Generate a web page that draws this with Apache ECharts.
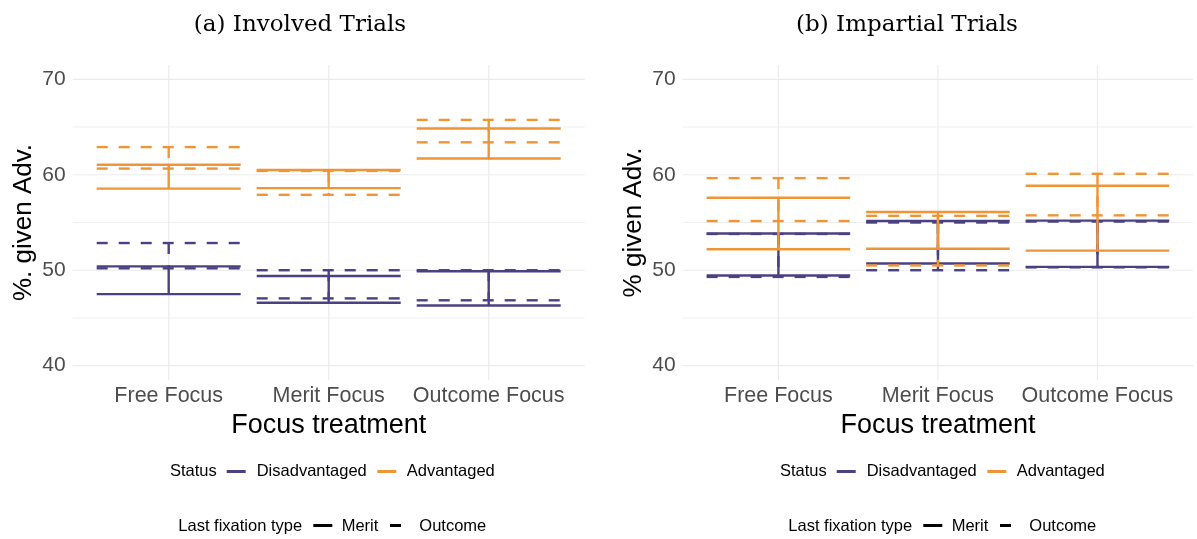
<!DOCTYPE html>
<html>
<head>
<meta charset="utf-8">
<script src="https://cdn.jsdelivr.net/npm/echarts@6/dist/echarts.min.js"></script>
<style>
html, body { margin: 0; padding: 0; background: #fff; }
#chart { width: 1197px; height: 539px; }
</style>
</head>
<body>
<div id="chart"></div>
<script>
var categories = ['Free Focus', 'Merit Focus', 'Outcome Focus']
var panelTitles = ['(a) Involved Trials', '(b) Impartial Trials']
var yTitles = ['%. given Adv.', '% given Adv.']
var xTitle = 'Focus treatment'
var yTickLabels = [40, 50, 60, 70]
var yMinorTicks = [45, 55, 65]
var statusNames = ['Disadvantaged', 'Advantaged']
var fixationNames = ['Merit', 'Outcome']
var statusTitle = 'Status'
var fixationTitle = 'Last fixation type'

// involved trials, lower / upper end per focus treatment
var involvedDisMeritLow = [47.5, 46.6, 46.3]
var involvedDisMeritHigh = [50.4, 49.4, 49.9]
var involvedDisOutcomeLow = [50.2, 47.05, 46.85]
var involvedDisOutcomeHigh = [52.85, 50.0, 50.0]
var involvedAdvMeritLow = [58.55, 58.6, 61.7]
var involvedAdvMeritHigh = [61.05, 60.5, 64.85]
var involvedAdvOutcomeLow = [60.65, 57.9, 63.4]
var involvedAdvOutcomeHigh = [62.9, 60.4, 65.75]

// impartial trials
var impartialDisMeritLow = [49.45, 50.7, 50.35]
var impartialDisMeritHigh = [53.85, 55.15, 55.2]
var impartialDisOutcomeLow = [49.3, 50.0, 50.3]
var impartialDisOutcomeHigh = [53.8, 55.0, 55.1]
var impartialAdvMeritLow = [52.2, 52.25, 52.05]
var impartialAdvMeritHigh = [57.6, 56.1, 58.85]
var impartialAdvOutcomeLow = [55.15, 50.5, 55.75]
var impartialAdvOutcomeHigh = [59.65, 55.7, 60.1]

var statusColors = ['#4B4080', '#EE9538']
var dashes = [null, [11, 11]]
var fontSans = 'Liberation Sans, Arial, sans-serif'

var panels = [
  [
    [0, 0, involvedDisMeritLow, involvedDisMeritHigh],
    [0, 1, involvedDisOutcomeLow, involvedDisOutcomeHigh],
    [1, 0, involvedAdvMeritLow, involvedAdvMeritHigh],
    [1, 1, involvedAdvOutcomeLow, involvedAdvOutcomeHigh]
  ],
  [
    [0, 0, impartialDisMeritLow, impartialDisMeritHigh],
    [0, 1, impartialDisOutcomeLow, impartialDisOutcomeHigh],
    [1, 0, impartialAdvMeritLow, impartialAdvMeritHigh],
    [1, 1, impartialAdvOutcomeLow, impartialAdvOutcomeHigh]
  ]
]

var grids = [
  { left: 72.7, top: 65, width: 512, height: 315, outerBoundsMode: 'none' },
  { left: 682.7, top: 65, width: 510.5, height: 315, outerBoundsMode: 'none' }
]

function gridSeries(p, values, horizontal, width) {
  return {
    type: 'custom',
    xAxisIndex: p,
    yAxisIndex: p,
    silent: true,
    z: 1,
    encode: horizontal ? { y: 0 } : { x: 0 },
    data: values.map(function(v) { return [v] }),
    renderItem: function(params, api) {
      var cs = params.coordSys
      var shape
      if (horizontal) {
        var y = api.coord([2, api.value(0)])[1]
        shape = { x1: cs.x, y1: y, x2: cs.x + cs.width, y2: y }
      } else {
        var x = api.coord([api.value(0), 55])[0]
        shape = { x1: x, y1: cs.y, x2: x, y2: cs.y + cs.height }
      }
      return { type: 'line', shape: shape, style: { stroke: '#EBEBEB', lineWidth: width } }
    }
  }
}

function errorSeries(p, item) {
  var color = statusColors[item[0]]
  var dash = dashes[item[1]]
  var lows = item[2]
  var highs = item[3]
  return {
    type: 'custom',
    name: statusNames[item[0]] + ' ' + fixationNames[item[1]],
    xAxisIndex: p,
    yAxisIndex: p,
    silent: true,
    z: 3,
    clip: false,
    encode: { x: 0, y: [1, 2] },
    data: lows.map(function(lo, i) { return [i + 1, lo, highs[i]] }),
    renderItem: function(params, api) {
      var x = api.value(0)
      var top = api.coord([x, api.value(2)])
      var bot = api.coord([x, api.value(1)])
      var half = api.size([0.45, 0])[0]
      var style = { stroke: color, lineWidth: 2.4, lineDash: dash, lineCap: 'butt', fill: null }
      return {
        type: 'group',
        children: [
          { type: 'line', shape: { x1: top[0] - half, y1: top[1], x2: top[0] + half, y2: top[1] }, style: style },
          { type: 'line', shape: { x1: top[0], y1: top[1], x2: bot[0], y2: bot[1] }, style: style },
          { type: 'line', shape: { x1: bot[0] - half, y1: bot[1], x2: bot[0] + half, y2: bot[1] }, style: style }
        ]
      }
    }
  }
}

var xAxes = []
var yAxes = []
var series = []
panels.forEach(function(items, p) {
  xAxes.push({
    type: 'value',
    gridIndex: p,
    min: 0.4,
    max: 3.6,
    axisLine: { show: false },
    axisTick: { show: false },
    splitLine: { show: false },
    axisLabel: {
      customValues: [1, 2, 3],
      formatter: function(v) { return categories[Math.round(v) - 1] },
      fontSize: 21.5,
      color: '#4D4D4D',
      fontFamily: fontSans,
      margin: 5
    },
    name: xTitle,
    nameLocation: 'middle',
    nameGap: 29,
    nameTextStyle: { fontSize: 27, color: '#000', fontFamily: fontSans }
  })
  yAxes.push({
    type: 'value',
    gridIndex: p,
    min: 38.5,
    max: 71.5,
    axisLine: { show: false },
    axisTick: { show: false },
    splitLine: { show: false },
    axisLabel: {
      customValues: yTickLabels,
      fontSize: 21,
      color: '#4D4D4D',
      fontFamily: fontSans,
      margin: 7
    },
    name: yTitles[p],
    nameLocation: 'middle',
    nameGap: 36,
    nameRotate: 90,
    nameTextStyle: { fontSize: 26, color: '#000', fontFamily: fontSans }
  })
  series.push(gridSeries(p, yMinorTicks, true, 0.8))
  series.push(gridSeries(p, yTickLabels, true, 1.2))
  series.push(gridSeries(p, [1, 2, 3], false, 1.2))
  items.forEach(function(item) { series.push(errorSeries(p, item)) })
})

// titles and legends (right panel legend is the left one shifted by 610px)
var graphics = []
var titleX = [300, 907]
var legendShift = [0, 610]
var legendFont = '16.5px ' + fontSans
panelTitles.forEach(function(t, p) {
  var d = legendShift[p]
  graphics.push({
    type: 'text', x: titleX[p], y: 25,
    style: { text: t, font: '23px "DejaVu Serif", serif', fill: '#000', textAlign: 'center', textVerticalAlign: 'middle' }
  })
  var statusKeys = [226.7, 377.3]
  var statusTexts = [256.7, 406.7]
  graphics.push({ type: 'text', x: 170 + d, y: 471.7, style: { text: statusTitle, font: legendFont, fill: '#000', textVerticalAlign: 'middle' } })
  statusNames.forEach(function(s, i) {
    graphics.push({ type: 'line', shape: { x1: statusKeys[i] + d, y1: 471.5, x2: statusKeys[i] + d + 19, y2: 471.5 }, style: { stroke: statusColors[i], lineWidth: 3 } })
    graphics.push({ type: 'text', x: statusTexts[i] + d, y: 471.7, style: { text: s, font: legendFont, fill: '#000', textVerticalAlign: 'middle' } })
  })
  var fixKeys = [313.3, 390]
  var fixTexts = [341.7, 419.3]
  graphics.push({ type: 'text', x: 178.3 + d, y: 526, style: { text: fixationTitle, font: legendFont, fill: '#000', textVerticalAlign: 'middle' } })
  fixationNames.forEach(function(f, i) {
    var len = i === 0 ? 19 : 11
    graphics.push({ type: 'line', shape: { x1: fixKeys[i] + d, y1: 525.5, x2: fixKeys[i] + d + len, y2: 525.5 }, style: { stroke: '#000', lineWidth: 3 } })
    graphics.push({ type: 'text', x: fixTexts[i] + d, y: 526, style: { text: f, font: legendFont, fill: '#000', textVerticalAlign: 'middle' } })
  })
})

var option = {
  animation: false,
  backgroundColor: '#fff',
  grid: grids,
  xAxis: xAxes,
  yAxis: yAxes,
  series: series,
  graphic: graphics
}
var chart = echarts.init(document.getElementById('chart'))
chart.setOption(option, true)
window.addEventListener('resize', function() {
  chart.resize()
})
</script>
</body>
</html>
